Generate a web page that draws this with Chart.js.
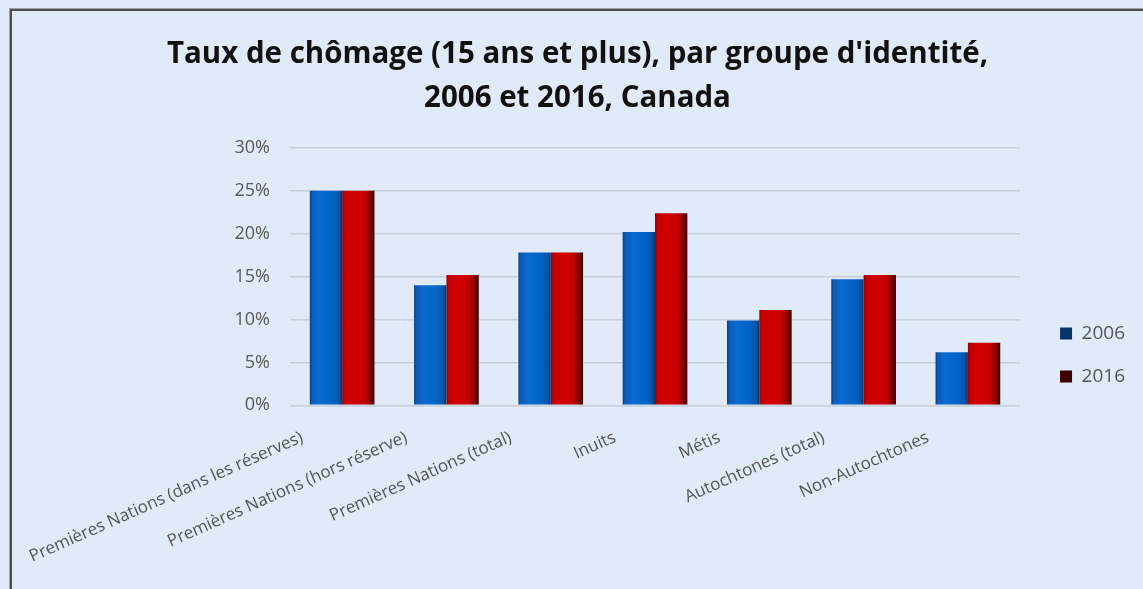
<!DOCTYPE html>
<html>
<head>
<meta charset="utf-8">
<title>Taux de chômage par groupe d'identité</title>
<script src="https://cdn.jsdelivr.net/npm/chart.js@4.4.1/dist/chart.umd.min.js"></script>
<style>
  html, body { margin: 0; padding: 0; background: #e0eaf8; overflow: hidden; }
  #frame {
    position: absolute; left: 10px; top: 9px; width: 1300px; height: 800px;
    border-left: 2px solid #4f4f4f; border-top: 2px solid #4f4f4f;
    box-shadow: -1px -1px 0 #9aa3ae;
  }
  #wrap { position: absolute; left: 0; top: 0; width: 1143px; height: 589px; }
</style>
</head>
<body>
<div id="frame"></div>
<div id="wrap"><canvas id="chomage"></canvas></div>

<script>
const categories = [
  "Premières Nations (dans les réserves)",
  "Premières Nations (hors réserve)",
  "Premières Nations (total)",
  "Inuits",
  "Métis",
  "Autochtones (total)",
  "Non-Autochtones"
];
const taux2006 = [25.0, 14.0, 17.8, 20.2, 9.9, 14.7, 6.2];
const taux2016 = [25.0, 15.2, 17.8, 22.4, 11.1, 15.2, 7.3];
const yTicks = [0, 5, 10, 15, 20, 25, 30];

const CAT_PCT = 0.62;

// bevelled look: horizontal gradient across each bar
function barFill(stops, flat, side) {
  return function (context) {
    const chart = context.chart;
    const x = chart.scales && chart.scales.x;
    if (context.dataIndex === undefined || !chart.chartArea || !x) return flat;
    const center = x.getPixelForValue(context.dataIndex);
    const w = x.width / categories.length * CAT_PCT / 2;
    const x0 = side === 0 ? center - w : center;
    const g = chart.ctx.createLinearGradient(x0, 0, x0 + w, 0);
    stops.forEach(s => g.addColorStop(s[0], s[1]));
    return g;
  };
}

const blueStops = [[0, "#083c76"], [0.07, "#0a5cb8"], [0.3, "#0a6ad2"], [0.75, "#0062c4"], [0.92, "#0a4f9c"], [1, "#06346a"]];
const redStops = [[0, "#8a0000"], [0.07, "#c40000"], [0.4, "#d30000"], [0.72, "#c20000"], [0.88, "#7c0000"], [1, "#3c0000"]];

new Chart(document.getElementById("chomage"), {
  type: "bar",
  data: {
    labels: categories,
    datasets: [
      {
        label: "2006",
        data: taux2006,
        backgroundColor: barFill(blueStops, "#0a64c8", 0),
        categoryPercentage: CAT_PCT,
        barPercentage: 1.0
      },
      {
        label: "2016",
        data: taux2016,
        backgroundColor: barFill(redStops, "#c00000", 1),
        categoryPercentage: CAT_PCT,
        barPercentage: 1.0
      }
    ]
  },
  options: {
    responsive: true,
    maintainAspectRatio: false,
    animation: false,
    layout: { padding: { left: 20, right: 8, top: 0, bottom: 8 } },
    plugins: {
      title: {
        display: true,
        text: ["Taux de chômage (15 ans et plus), par groupe d'identité,", "2006 et 2016, Canada"],
        color: "#111111",
        font: { family: "Open Sans", size: 29.5, weight: "bold", lineHeight: 1.49 },
        padding: { top: 32.5, bottom: 27.5 }
      },
      legend: {
        position: "right",
        align: "start",
        // empty title only pushes the two entries down to the middle
        title: { display: true, text: "", font: { size: 10 }, padding: { top: 288, bottom: 0 } },
        labels: {
          color: "#555555",
          font: { family: "Open Sans", size: 19 },
          boxWidth: 12,
          boxHeight: 12,
          padding: 24
        }
      },
      tooltip: { enabled: false }
    },
    scales: {
      x: {
        grid: { display: false },
        border: { display: false },
        ticks: {
          color: "#555555",
          font: { family: "Open Sans", size: 17 },
          minRotation: 24,
          maxRotation: 24,
          autoSkip: false,
          padding: 14,
          labelOffset: -40
        }
      },
      y: {
        min: 0,
        max: 30,
        afterBuildTicks: (scale) => { scale.ticks = yTicks.map(v => ({ value: v })); },
        afterFit: (scale) => { scale.width = 270; },
        grid: { color: "#c6cfdc", lineWidth: 1.5, drawTicks: false },
        border: { display: false },
        ticks: {
          color: "#595959",
          font: { family: "Open Sans", size: 18 },
          padding: 20,
          callback: (v) => v + "%"
        }
      },
      // empty gutter between the plot and the legend
      gap: {
        position: "right",
        grid: { display: false },
        border: { display: false },
        ticks: { display: false },
        afterFit: (scale) => { scale.width = 16; }
      }
    }
  }
});
</script>
</body>
</html>
